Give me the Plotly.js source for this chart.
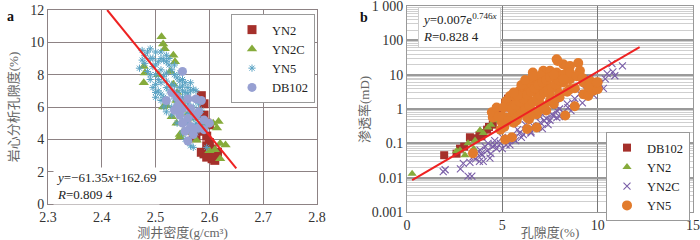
<!DOCTYPE html>
<html><head><meta charset="utf-8">
<script src="https://cdn.plot.ly/plotly-3.0.1.min.js"></script>
<style>html,body{margin:0;padding:0;background:#fff}#c{width:700px;height:240px}</style>
</head><body><div id="c"></div>
<script>
// ---------- Panel a: density vs core porosity ----------
const aYN2x = [2.585,2.59,2.59,2.595,2.6,2.57,2.575,2.595,2.585,2.59,2.595,2.6,2.605,2.6,2.605,2.61,2.61,2.595,2.615,2.58];
const aYN2y = [6.7,6.2,5.5,5.0,4.9,4.3,4.1,4.2,3.2,3.1,3.6,3.8,3.4,3.0,2.8,2.7,3.0,2.9,3.2,4.5];

const aYN2Cx = [2.511,2.514,2.517,2.478,2.48,2.478,2.514,2.539,2.533,2.527,2.536,2.533,2.607,2.617,2.614,2.62,2.63,2.62,2.61,2.545,2.551,2.539,2.558,2.567,2.576,2.58,2.59,2.561,2.548,2.555,2.52,2.505,2.545,2.57,2.6,2.53,2.54];
const aYN2Cy = [10.35,9.9,9.6,8.5,8.1,7.5,6.0,6.4,7.4,8.2,8.8,9.2,5.0,5.1,4.7,3.75,3.65,2.8,3.35,4.15,4.5,5.0,5.2,4.4,3.95,4.6,4.8,5.6,5.8,6.4,6.1,8.0,4.3,5.3,3.3,5.4,6.9];

const aYN5x = [2.475,2.48,2.49,2.495,2.5,2.505,2.51,2.515,2.52,2.525,2.48,2.485,2.495,2.5,2.505,2.51,2.515,2.52,2.53,2.535,2.54,2.545,2.55,2.555,2.56,2.565,2.57,2.505,2.51,2.515,2.52,2.525,2.53,2.535,2.54,2.545,2.55,2.555,2.56,2.565,2.57,2.575,2.58,2.52,2.53,2.54,2.545,2.55,2.56,2.565,2.57,2.575,2.58,2.585,2.59,2.565,2.57,2.555,2.545,2.52,2.49,2.535,2.5,2.51,2.525,2.55,2.56,2.56,2.54,2.595,
  2.49,2.5,2.51,2.52,2.53,2.5,2.49,2.485,2.535,2.545,2.555,2.565,2.57,2.575,2.58,2.56,2.55,2.54,2.53,2.515,2.51,2.52,2.5,2.495,2.47,2.475,2.55,2.565,2.575,2.585];
const aYN5y = [9.5,9.2,9.6,9.0,9.4,8.8,9.0,8.9,8.8,8.6,8.7,8.2,8.5,8.0,7.7,7.5,7.9,8.1,8.3,8.0,7.8,7.6,7.7,7.5,7.2,7.0,7.1,7.0,6.8,6.6,7.2,7.0,6.8,6.5,6.9,6.3,6.6,6.0,6.2,5.8,6.0,5.6,5.4,6.2,6.0,5.8,5.5,5.2,5.0,4.8,4.6,4.4,4.9,5.1,4.8,3.6,3.5,4.0,7.2,9.2,8.0,7.3,6.6,9.4,9.0,7.0,6.8,5.6,6.2,3.5,
  9.0,8.6,8.3,7.6,7.4,7.4,7.7,9.4,8.6,8.1,6.9,6.5,5.3,5.0,6.2,4.6,4.4,5.0,5.5,6.0,6.4,5.7,6.9,7.2,8.4,8.9,7.3,7.5,7.0,5.8];

const aDBx = [2.55,2.53,2.54,2.545,2.56,2.575,2.585,2.52,2.55,2.565,2.58,2.545,2.56,2.575,2.59,2.6,2.55,2.565,2.57,2.58,2.555,2.57,2.56,2.59,2.535,2.54];
const aDBy = [8.2,6.9,6.6,6.3,6.5,6.5,6.4,6.4,5.9,5.9,5.7,5.5,5.3,5.5,5.2,5.0,5.0,4.8,4.6,4.7,4.5,4.3,3.9,4.6,5.8,6.0];

const aFitX = [2.41, 2.65];
const aFitY = [12.0, 2.2];

// ---------- Panel b: porosity vs permeability ----------
const bDBx = [1.95,2.6,2.78,3.0,3.3,3.6,3.8,4.0,4.3,4.5,4.9,5.14,5.24,5.4,6.6,3.9,5.3,4.2];
const bDBy = [0.045,0.05,0.07,0.08,0.15,0.14,0.17,0.2,0.3,0.35,0.8,1.5,1.1,1.7,4.2,0.16,2.0,0.25];

const bYN2x = [0.27,2.6,2.78,3.04,3.2,3.57,3.83,4.0,4.25,4.4,4.6,4.7,3.5];
const bYN2y = [0.013,0.06,0.063,0.045,0.1,0.12,0.24,0.2,0.29,0.35,0.47,0.6,0.07];

const bYN2Cx = [1.9,2.0,2.8,2.95,3.2,3.4,3.3,3.46,3.67,3.83,3.93,4.35,4.1,4.25,4.5,4.6,4.9,5.24,5.56,5.9,6.3,6.6,7.0,7.3,7.66,7.86,11.3,10.75,10.9,10.5,10.1,9.86,9.6,9.4,9.07,8.7,8.44,8.2,7.86,7.5,7.1,5.0,5.4,5.7,6.0,6.5,6.9,7.4,8.0,8.6,9.2,9.8,10.3,4.0,4.4,3.6,
  5.2,5.6,6.1,6.5,6.8,7.2,7.6,8.0,8.4,8.8,9.2,9.6,10.0,10.4,10.8,4.7,4.2,3.8,3.9,4.6,5.0,5.8,6.2,7.0,7.8];
const bYN2Cy = [0.015,0.017,0.018,0.026,0.011,0.011,0.028,0.04,0.052,0.063,0.045,0.037,0.08,0.1,0.08,0.12,0.1,0.12,0.15,0.2,0.24,0.33,0.4,0.53,0.65,0.9,18,21,9.3,10.7,5.5,4.2,7.6,3.5,2.8,1.5,1.1,0.8,0.56,0.47,0.27,0.07,0.09,0.12,0.15,0.2,0.3,0.35,0.6,0.9,1.5,2.5,4.0,0.03,0.05,0.035,
  0.09,0.13,0.18,0.22,0.3,0.45,0.7,1.0,1.4,2.0,3.0,4.5,6.0,7.5,12,0.07,0.06,0.03,0.05,0.09,0.15,0.25,0.35,0.6,1.3];

const bYN5x = [3.46,7.85,8.98,8.2,8.55,8.4,8.55,9.07,9.25,9.6,9.25,9.5,9.77,10.0,9.94,8.8,8.3,6.8,6.3,5.5,5.15,4.5,4.45,4.7,5.4,5.9,6.6,7.15,7.5,7.7,6.8,6.45,6.1,7.3,7.85,8.2,8.55,8.0,7.5,7.0,6.45,5.9,5.55,5.2,4.97,5.75,6.3,6.8,7.3,7.7,5.75,6.3,6.8,7.15,7.5,5.2,5.05,5.4,7.85,8.2,8.55,7.9,6.0,6.6,7.0,6.2,5.6,4.8,8.9,10.0,
  5.6,5.8,6.0,6.2,6.4,6.6,6.8,7.0,7.2,7.4,7.6,7.8,8.0,8.2,5.5,5.7,5.9,6.1,6.3,6.5,6.7,6.9,7.1,7.3,7.5,7.7,6.4,6.6,6.9,7.2,7.6,8.0,8.4,8.8,9.2,9.5,5.1,5.0,4.9,5.3,6.0,6.2,6.6,5.8,5.6];
const bYN5y = [0.051,28,22,20,18,11.5,7.4,13,5.9,6.6,2.7,2.4,3.4,3.8,5.9,1.2,0.65,0.29,0.26,0.15,0.13,0.57,0.8,1.1,2.4,3.4,11.5,13,13,8.3,6.6,4.8,3.8,5.3,4.2,5.9,3.8,2.2,1.7,1.4,1.1,0.9,0.7,0.57,0.41,0.46,0.57,0.7,0.9,1.4,1.7,2.2,3.0,3.4,2.7,1.7,1.1,1.1,11.5,10,11.5,25,2.6,8,9.5,1.6,1.3,0.6,9,6,
  0.4,0.6,0.8,1.0,1.3,1.6,2.0,2.4,3.0,3.6,4.4,5.2,6.5,7.5,1.0,1.3,1.6,2.0,2.6,3.2,4.0,5.0,6.0,7.0,8.5,10,0.5,0.7,0.9,1.1,1.8,2.8,3.2,4.0,8,4.5,0.3,0.6,0.25,0.45,5.0,7.0,9.0,2.5,3.0];

const bFitX = [0.27, 12.2];
const bFitY = [0.0085, 63];

const yTickVals = [0.001,0.01,0.1,1,10,100,1000];
const yTickText = ['0.001','0.01','0.1','1','10','100','1 000'];

const serif = '"Liberation Serif", "DejaVu Serif", serif';
const mixed = '"Liberation Serif", "Noto Sans CJK SC", serif';
const red = '#a5302b', green = '#86ab3b', blue = '#5aa3c4', lav = '#97a0d2', purple = '#7a5ea8', orange = '#e27b2c';

const traces = [
  {x:aYN2x, y:aYN2y, name:'YN2', mode:'markers', type:'scatter', xaxis:'x', yaxis:'y', legend:'legend',
   marker:{symbol:'square', size:9, color:red}},
  {x:aYN2Cx, y:aYN2Cy, name:'YN2C', mode:'markers', type:'scatter', xaxis:'x', yaxis:'y', legend:'legend',
   marker:{symbol:'triangle-up', size:9, color:green}},
  {x:aYN5x, y:aYN5y, name:'YN5', mode:'markers', type:'scatter', xaxis:'x', yaxis:'y', legend:'legend',
   marker:{symbol:'asterisk-open', size:6, color:blue, line:{color:blue, width:1}}},
  {x:aDBx, y:aDBy, name:'DB102', mode:'markers', type:'scatter', xaxis:'x', yaxis:'y', legend:'legend',
   marker:{symbol:'circle', size:9, color:lav}},
  {x:aFitX, y:aFitY, mode:'lines', type:'scatter', xaxis:'x', yaxis:'y', showlegend:false,
   line:{color:'#ee2222', width:2}},

  {x:bDBx, y:bDBy, name:'DB102', mode:'markers', type:'scatter', xaxis:'x2', yaxis:'y2', legend:'legend2',
   marker:{symbol:'square', size:8, color:red}},
  {x:bYN2x, y:bYN2y, name:'YN2', mode:'markers', type:'scatter', xaxis:'x2', yaxis:'y2', legend:'legend2',
   marker:{symbol:'triangle-up', size:8, color:green}},
  {x:bYN2Cx, y:bYN2Cy, name:'YN2C', mode:'markers', type:'scatter', xaxis:'x2', yaxis:'y2', legend:'legend2',
   marker:{symbol:'x-thin-open', size:7, color:purple, line:{color:purple, width:1.1}}},
  {x:bYN5x, y:bYN5y, name:'YN5', mode:'markers', type:'scatter', xaxis:'x2', yaxis:'y2', legend:'legend2',
   marker:{symbol:'circle', size:10, color:orange}},
  {x:bFitX, y:bFitY, mode:'lines', type:'scatter', xaxis:'x2', yaxis:'y2', showlegend:false,
   line:{color:'#ee2222', width:2}}
];

const tickFont = {family:serif, size:14, color:'#333'};
const titleFont = {family:mixed, size:13, color:'#666'};
const legFont = {family:serif, size:12.5, color:'#222'};

const layout = {
  width:700, height:240,
  margin:{l:0, r:0, t:0, b:0},
  paper_bgcolor:'#fff', plot_bgcolor:'#fff',
  showlegend:true,
  xaxis:{domain:[48/700, 317/700], range:[2.3,2.8], dtick:0.1, tickformat:'.1f',
    showgrid:true, gridcolor:'#8d8284', gridwidth:1, zeroline:false,
    showline:true, mirror:true, linecolor:'#8d8284', linewidth:1,
    ticks:'', tickfont:tickFont,
    title:{text:'测井密度(g/cm³)', font:titleFont, standoff:4}},
  yaxis:{domain:[36/240, 230/240], range:[0,12], dtick:2,
    showgrid:true, gridcolor:'#8d8284', gridwidth:1, zeroline:false,
    showline:true, mirror:true, linecolor:'#8d8284', linewidth:1,
    ticks:'', tickfont:tickFont,
    title:{text:'岩心分析孔隙度(%)', font:titleFont, standoff:8}},
  xaxis2:{domain:[407/700, 693/700], range:[0,15], dtick:5, anchor:'y2',
    showgrid:true, gridcolor:'#777', gridwidth:1, zeroline:false,
    showline:true, mirror:true, linecolor:'#999', linewidth:1,
    ticks:'', tickfont:tickFont,
    title:{text:'孔隙度(%)', font:titleFont, standoff:0}},
  yaxis2:{domain:[28/240, 234/240], type:'log', range:[-3.0005,3.0005], anchor:'x2',
    tickvals:yTickVals, ticktext:yTickText, ticklabeloverflow:'allow',
    showgrid:true, gridcolor:'#9a9a9a', gridwidth:2, zeroline:false,
    showline:true, mirror:true, linecolor:'#999', linewidth:1,
    ticks:'', tickfont:tickFont,
    minor:{dtick:'D1', showgrid:true, gridcolor:'#cfcfcf', gridwidth:1, ticks:''}},
  legend:{x:315/700, y:226/240, xanchor:'right', yanchor:'top', bgcolor:'#fff',
    bordercolor:'#999', borderwidth:1, font:legFont, itemwidth:30, tracegroupgap:0},
  legend2:{x:690/700, y:108/240, xanchor:'right', yanchor:'top', bgcolor:'#fff',
    bordercolor:'#999', borderwidth:1, font:legFont, itemwidth:30, tracegroupgap:0},
  annotations:[
    {xref:'paper', yref:'paper', x:5/700, y:233/240, xanchor:'left', yanchor:'top', showarrow:false,
     text:'<b>a</b>', font:{family:serif, size:14, color:'#111'}},
    {xref:'paper', yref:'paper', x:358/700, y:232/240, xanchor:'left', yanchor:'top', showarrow:false,
     text:'<b>b</b>', font:{family:serif, size:14, color:'#111'}},
    {xref:'paper', yref:'paper', x:364/700, y:130/240, xanchor:'center', yanchor:'middle', showarrow:false,
     textangle:-90, text:'渗透率(mD)', font:titleFont},
    {xref:'paper', yref:'paper', x:53/700, y:54/240, xanchor:'left', yanchor:'middle', showarrow:false,
     align:'left', bgcolor:'#fff', borderpad:2,
     text:'<i>y</i>=−61.35<i>x</i>+162.69<br><i>R</i>=0.809 4', font:{family:serif, size:13, color:'#222'}},
    {xref:'paper', yref:'paper', x:418/700, y:213/240, xanchor:'left', yanchor:'middle', showarrow:false,
     align:'left', bgcolor:'#fff', bordercolor:'#ccc', borderwidth:1, borderpad:3,
     text:'<i>y</i>=0.007e<sup>0.746<i>x</i></sup><br><i>R</i>=0.828 4', font:{family:serif, size:13, color:'#222'}}
  ]
};

Plotly.newPlot('c', traces, layout, {staticPlot:true, displayModeBar:false});
</script></body></html>
